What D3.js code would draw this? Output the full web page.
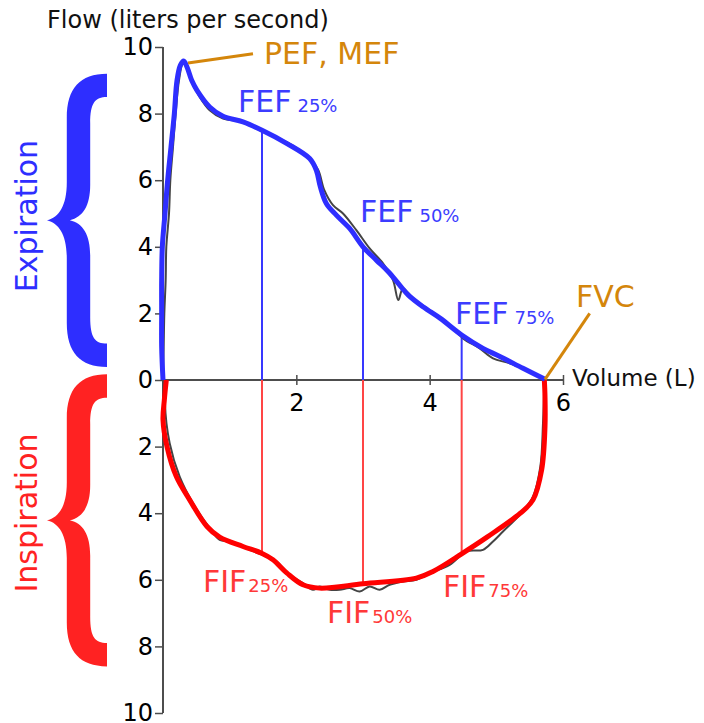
<!DOCTYPE html>
<html>
<head>
<meta charset="utf-8">
<script src="https://cdn.jsdelivr.net/npm/d3@7"></script>
<style>
  body { margin: 0; background: #fff; }
  svg { display: block; font-family: "DejaVu Sans", sans-serif; }
</style>
</head>
<body>
<svg id="chart" width="704" height="723"></svg>
<script>
// smoothed expiration curve (volume L, flow L/s)
var expVolume = [0, -0.02, -0.02, -0.02, -0.01, 0.03, 0.07, 0.12, 0.17, 0.21, 0.26, 0.31, 0.36, 0.43, 0.51, 0.7, 0.9, 1.2, 1.485, 1.86, 2.2, 2.3, 2.36, 2.45, 2.6, 2.8, 3.0, 3.2, 3.38, 3.55, 3.68, 3.9, 4.16, 4.48, 4.8, 5.06, 5.4, 5.73];
var expFlow   = [0, 1, 2, 3, 4, 5, 6, 7, 8, 9, 9.45, 9.58, 9.4, 9.0, 8.7, 8.2, 7.92, 7.75, 7.5, 7.1, 6.65, 6.3, 5.8, 5.3, 4.95, 4.55, 4.0, 3.6, 3.25, 2.85, 2.55, 2.2, 1.85, 1.35, 0.95, 0.7, 0.35, 0.02];

// smoothed inspiration curve
var inspVolume = [0.05, 0.02, 0.0, 0.06, 0.2, 0.4, 0.66, 0.85, 1.2, 1.48, 1.65, 1.86, 2.1, 2.35, 3.0, 3.8, 4.05, 4.48, 4.86, 5.36, 5.55, 5.68, 5.73, 5.73, 5.72];
var inspFlow   = [0, -0.6, -1.2, -2.0, -2.9, -3.6, -4.4, -4.72, -5.0, -5.2, -5.4, -5.8, -6.15, -6.25, -6.12, -5.95, -5.75, -5.22, -4.72, -4.0, -3.6, -2.7, -1.4, -0.5, 0];

// raw measured trace (grey)
var rawExpVolume = [0, 0.01, 0.02, 0.04, 0.05, 0.09, 0.11, 0.15, 0.19, 0.24, 0.3, 0.35, 0.42, 0.55, 0.7, 0.9, 1.2, 1.5, 1.9, 2.22, 2.33, 2.42, 2.55, 2.7, 2.9, 3.1, 3.3, 3.45, 3.53, 3.6, 3.75, 4.0, 4.3, 4.5, 4.75, 4.95, 5.2, 5.5, 5.73];
var rawExpFlow   = [0, 1, 2, 3, 4, 5, 6, 7, 8, 9, 9.5, 9.45, 9.0, 8.5, 8.1, 7.85, 7.75, 7.45, 7.1, 6.6, 6.3, 5.7, 5.25, 5.0, 4.5, 3.95, 3.5, 3.0, 2.4, 2.75, 2.45, 2.1, 1.65, 1.25, 0.95, 0.65, 0.5, 0.25, 0];

var rawInspVolume = [0.05, 0.03, 0.1, 0.25, 0.45, 0.7, 0.85, 1.0, 1.3, 1.55, 1.7, 1.9, 2.1, 2.25, 2.35, 2.5, 2.65, 2.8, 2.95, 3.1, 3.25, 3.4, 3.6, 3.8, 4.0, 4.3, 4.55, 4.8, 4.95, 5.1, 5.35, 5.55, 5.66, 5.7, 5.72];
var rawInspFlow   = [0, -0.7, -1.9, -2.9, -3.7, -4.45, -4.8, -4.85, -5.1, -5.3, -5.45, -5.85, -6.1, -6.3, -6.2, -6.3, -6.3, -6.25, -6.35, -6.2, -6.3, -6.15, -6.05, -6.0, -5.8, -5.55, -5.15, -5.1, -4.85, -4.55, -4.05, -3.5, -2.6, -1.3, 0];

// FEF / FIF points
var fefVolume = [1.485, 3.0, 4.48];
var fefFlow   = [7.45, 4.0, 1.3];
var fifVolume = [1.485, 3.0, 4.48];
var fifFlow   = [-5.17, -6.12, -5.2];
var pctLabels = ["25%", "50%", "75%"];

var yTicks = [10, 8, 6, 4, 2, 0, -2, -4, -6, -8, -10];
var yTickLabels = ["10", "8", "6", "4", "2", "0", "2", "4", "6", "8", "10"];
var xTicks = [2, 4, 6];
var xTickLabels = ["2", "4", "6"];

var pef = [0.33, 9.55];
var fvc = [5.73, 0.02];

var BLUE = "#2e2eff", RED = "#ff0000", ORANGE = "#d4860b", AXIS = "#4d4d4d";

var svg = d3.select("#chart");

var x = d3.scaleLinear().domain([0, 6]).range([163, 563]);
var y = d3.scaleLinear().domain([-10, 10]).range([713, 47]);

function pts(vs, fs) { return vs.map(function(v, i) { return [v, fs[i]]; }); }

var line = d3.line()
  .x(function(d) { return x(d[0]); })
  .y(function(d) { return y(d[1]); })
  .curve(d3.curveCatmullRom.alpha(0.5));

// braces
function bracePath(x0, x1, y0, y1) {
  var sx = d3.scaleLinear().range([x0, x1]), sy = d3.scaleLinear().range([y0, y1]);
  function p(a, b) { return sx(a) + "," + sy(b); }
  return "M" + p(1, 0) +
    "C" + p(0.55, 0) + " " + p(0.33, 0.05) + " " + p(0.33, 0.15) +
    "L" + p(0.33, 0.37) +
    "C" + p(0.33, 0.45) + " " + p(0.2, 0.49) + " " + p(0, 0.5) +
    "C" + p(0.2, 0.51) + " " + p(0.33, 0.55) + " " + p(0.33, 0.63) +
    "L" + p(0.33, 0.85) +
    "C" + p(0.33, 0.95) + " " + p(0.55, 1) + " " + p(1, 1) +
    "L" + p(1, 0.92) +
    "C" + p(0.8, 0.92) + " " + p(0.72, 0.9) + " " + p(0.72, 0.83) +
    "L" + p(0.72, 0.62) +
    "C" + p(0.72, 0.55) + " " + p(0.6, 0.51) + " " + p(0.38, 0.5) +
    "C" + p(0.6, 0.49) + " " + p(0.72, 0.45) + " " + p(0.72, 0.38) +
    "L" + p(0.72, 0.17) +
    "C" + p(0.72, 0.1) + " " + p(0.8, 0.08) + " " + p(1, 0.08) + "Z";
}
svg.append("path").attr("d", bracePath(47, 107, y(9.2), y(0.39))).attr("fill", BLUE);
svg.append("path").attr("d", bracePath(47, 107, y(0.17), y(-8.6))).attr("fill", "#ff2222");

svg.append("text").attr("transform", "translate(37,216) rotate(-90)")
  .attr("text-anchor", "middle").attr("font-size", 30).attr("fill", BLUE).text("Expiration");
svg.append("text").attr("transform", "translate(37,513) rotate(-90)")
  .attr("text-anchor", "middle").attr("font-size", 30).attr("fill", "#ff2222").text("Inspiration");

// axes
var yAxis = svg.append("g").attr("transform", "translate(" + x(0) + ",0)")
  .call(d3.axisLeft(y).tickValues(yTicks).tickSize(8).tickPadding(2)
    .tickFormat(function(d, i) { return yTickLabels[i]; }));
var xAxis = svg.append("g").attr("transform", "translate(0," + y(0) + ")")
  .call(d3.axisBottom(x).tickValues(xTicks).tickSize(5).tickPadding(9)
    .tickFormat(function(d, i) { return xTickLabels[i]; }));
[yAxis, xAxis].forEach(function(a) {
  a.select(".domain").remove();
  a.selectAll("line").attr("stroke", AXIS).attr("stroke-width", 1.5);
  a.selectAll("text").attr("font-size", 24).attr("fill", "#000")
    .attr("font-family", "DejaVu Sans");
});
xAxis.selectAll(".tick line").attr("y1", -5);
xAxis.selectAll("text").attr("dy", "0.71em");
svg.append("line").attr("x1", x(0)).attr("x2", x(0)).attr("y1", y(10)).attr("y2", y(-10))
  .attr("stroke", AXIS).attr("stroke-width", 2);
svg.append("line").attr("x1", x(0)).attr("x2", x(6)).attr("y1", y(0)).attr("y2", y(0))
  .attr("stroke", AXIS).attr("stroke-width", 2);

svg.append("text").attr("x", 47).attr("y", 28).attr("font-size", 24).attr("fill", "#111")
  .text("Flow (liters per second)");
svg.append("text").attr("x", 572).attr("y", 386).attr("font-size", 23).attr("fill", "#111")
  .text("Volume (L)");

// FEF / FIF verticals
fefVolume.forEach(function(v, i) {
  svg.append("line").attr("x1", x(v)).attr("x2", x(v)).attr("y1", y(0)).attr("y2", y(fefFlow[i]))
    .attr("stroke", "#3838ff").attr("stroke-width", 2);
});
fifVolume.forEach(function(v, i) {
  svg.append("line").attr("x1", x(v)).attr("x2", x(v)).attr("y1", y(0)).attr("y2", y(fifFlow[i]))
    .attr("stroke", "#ff4545").attr("stroke-width", 2);
});

// raw trace
svg.append("path").datum(pts(rawExpVolume, rawExpFlow)).attr("d", line)
  .attr("fill", "none").attr("stroke", "#444").attr("stroke-width", 2);
svg.append("path").datum(pts(rawInspVolume, rawInspFlow)).attr("d", line)
  .attr("fill", "none").attr("stroke", "#444").attr("stroke-width", 2);

// smoothed curves
svg.append("path").datum(pts(inspVolume, inspFlow)).attr("d", line)
  .attr("fill", "none").attr("stroke", RED).attr("stroke-width", 5).attr("stroke-linejoin", "round");
svg.append("path").datum(pts(expVolume, expFlow)).attr("d", line)
  .attr("fill", "none").attr("stroke", BLUE).attr("stroke-width", 5).attr("stroke-linejoin", "round");

// annotations
svg.append("line").attr("x1", x(pef[0]) + 3).attr("y1", y(pef[1]) + 1).attr("x2", x(1.35)).attr("y2", y(9.8))
  .attr("stroke", ORANGE).attr("stroke-width", 3);
svg.append("text").attr("x", 264).attr("y", 64).attr("font-size", 30).attr("fill", ORANGE).text("PEF, MEF");
svg.append("line").attr("x1", x(fvc[0])).attr("y1", y(fvc[1])).attr("x2", x(6.4)).attr("y2", y(2.0))
  .attr("stroke", ORANGE).attr("stroke-width", 3);
svg.append("text").attr("x", 576).attr("y", 307).attr("font-size", 30).attr("fill", ORANGE).text("FVC");

var fefLabelPos = [[238, 112], [360, 222], [455, 324]];
var fifLabelPos = [[203, 592], [327, 623], [443, 597]];
function subLabel(pos, main, sub, color) {
  var t = svg.append("text").attr("x", pos[0]).attr("y", pos[1]).attr("fill", color).attr("font-size", 30);
  t.append("tspan").text(main);
  t.append("tspan").attr("dx", main === "FEF" ? 6 : 2).attr("font-size", 18).text(sub);
}
pctLabels.forEach(function(p, i) {
  subLabel(fefLabelPos[i], "FEF", p, "#3c3cff");
  subLabel(fifLabelPos[i], "FIF", p, "#ff3838");
});
</script>
</body>
</html>
